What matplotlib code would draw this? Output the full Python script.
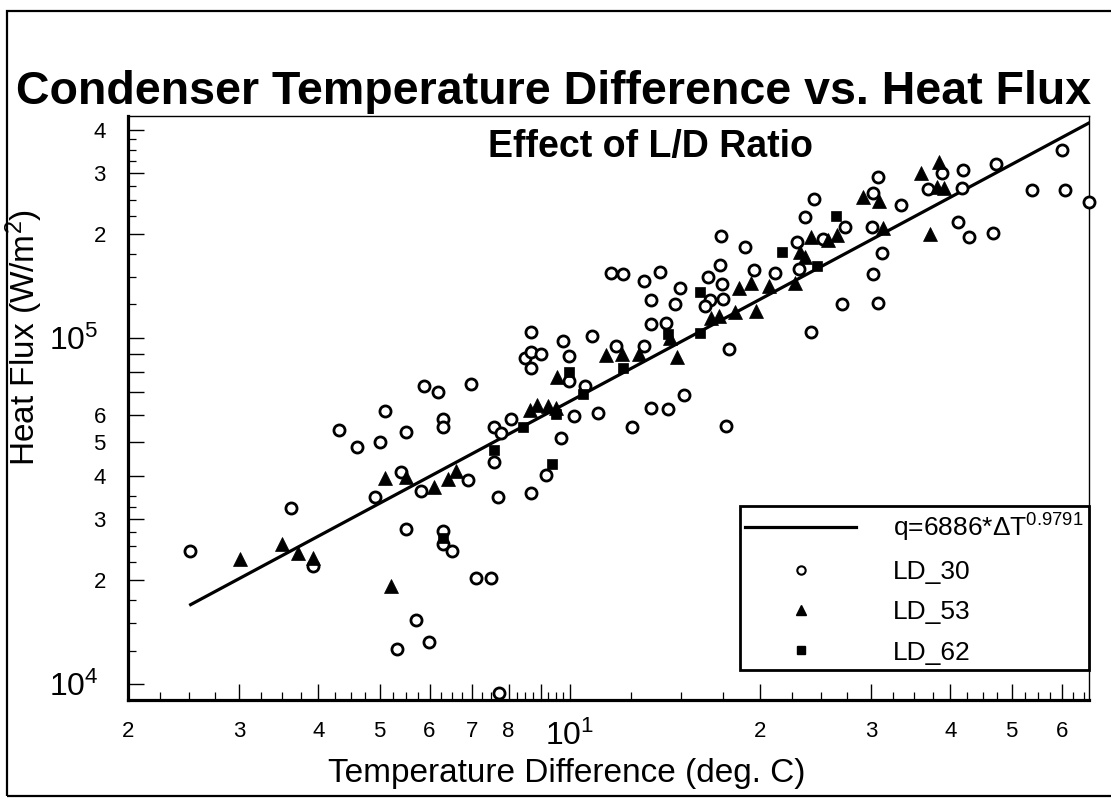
import matplotlib
matplotlib.use('Agg')
import numpy as np
import matplotlib.pyplot as plt
from matplotlib.lines import Line2D
from matplotlib.patches import Rectangle
from matplotlib.ticker import FixedLocator, FixedFormatter, NullFormatter
from matplotlib.transforms import ScaledTranslation

plt.rcParams['font.family'] = ['Liberation Sans', 'DejaVu Sans']
plt.rcParams['mathtext.fontset'] = 'custom'
plt.rcParams['mathtext.rm'] = 'Liberation Sans'
plt.rcParams['mathtext.it'] = 'Liberation Sans:italic'
plt.rcParams['mathtext.bf'] = 'Liberation Sans:bold'
plt.rcParams['mathtext.default'] = 'regular'

# ---------------- data ----------------
title = "Condenser Temperature Difference vs. Heat Flux"
subtitle = "Effect of L/D Ratio"
xlabel = "Temperature Difference (deg. C)"
ylabel = "Heat Flux (W/m$^2$)"

fit_coef = 6886.0
fit_exp = 0.9791
fit_range = [2.5, 70.0]
fit_label = "q=6886*ΔT$^{0.9791}$"

ld30_dt = [2.51, 3.62, 4.31, 4.60, 5.00, 5.11, 5.50, 5.41, 4.91, 5.81,
           5.50, 3.92, 5.71, 5.32, 5.99, 5.89, 6.19, 6.99, 6.29, 6.29,
           6.89, 7.58, 7.79, 8.06, 7.58, 7.70, 6.29, 6.29, 6.51, 7.10,
           7.50, 7.72, 8.67, 8.49, 8.68, 8.99, 8.68, 9.77, 9.97, 9.98,
           10.84, 11.82, 10.56, 10.16, 11.09, 9.67, 9.17, 8.68, 17.35, 18.92,
           11.61, 12.13, 13.12, 13.88, 14.96, 13.42, 14.69, 13.42, 14.20, 17.29,
           16.55, 17.43, 16.67, 17.45, 16.37, 19.58, 13.12, 12.53, 13.42, 14.29,
           15.18, 17.65, 17.86, 30.77, 24.35, 23.56, 30.15, 27.26, 33.40, 36.83,
           22.87, 25.20, 30.10, 31.17, 21.13, 23.08, 30.15, 26.94, 30.77, 24.06,
           60.00, 47.20, 41.85, 38.76, 41.70, 53.90, 60.75, 66.30, 41.20, 42.80,
           46.80]
ld30_q = [24300, 32200, 54100, 48400, 50000, 61600, 53400, 41000, 34700, 36200,
          28100, 22000, 15300, 12600, 13200, 72800, 69800, 73800, 58400, 55400,
          38800, 55300, 53000, 58400, 43700, 34700, 27700, 25400, 24300, 20200,
          20200, 9460, 104300, 87700, 90900, 89700, 81700, 98000, 88900, 75100,
          101300, 95000, 72800, 59500, 60700, 51400, 40100, 35700, 197500, 183600,
          153800, 153100, 146000, 154800, 139200, 128800, 125400, 109800, 110300, 162200,
          149800, 143200, 128800, 129900, 123900, 157300, 94900, 55300, 62800, 62400,
          68600, 55800, 93100, 291400, 251700, 223200, 263000, 209500, 242900, 268800,
          189500, 192700, 209500, 176500, 154200, 158300, 152800, 125700, 126500, 104000,
          350000, 317700, 305800, 300400, 270700, 267500, 267500, 247700, 216800, 196200,
          200800]

ld53_dt = [3.01, 3.51, 3.71, 3.92, 5.11, 5.50, 5.21, 6.10, 6.42, 6.60,
           8.65, 8.89, 9.25, 9.51, 9.55, 11.40, 12.11, 12.88, 14.77, 16.73,
           17.24, 18.26, 19.69, 18.55, 19.33, 35.95, 38.39, 29.07, 30.87, 24.09,
           25.59, 26.45, 23.14, 23.56, 31.34, 37.13, 22.72, 20.69, 38.07, 39.10,
           14.40]
ld53_q = [23000, 25400, 23900, 23200, 39400, 39600, 19200, 37200, 39100, 41400,
          61800, 64100, 63800, 62700, 77000, 89300, 89700, 89900, 88300, 114000,
          116000, 118600, 120000, 139200, 143900, 299000, 323200, 256000, 249000, 195400,
          192000, 198400, 176900, 171800, 207800, 199700, 143900, 141600, 273800, 270700,
          100000]

ld62_dt = [6.29, 7.58, 8.44, 9.51, 9.98, 10.51, 9.38, 12.13, 16.08, 16.08,
           14.30, 26.38, 21.69, 24.65]
ld62_q = [26400, 47500, 55400, 60200, 79900, 68900, 43300, 81700, 136000, 103200,
          102700, 225600, 176900, 161800]

series_labels = ["LD_30", "LD_53", "LD_62"]

x_major = [2, 3, 4, 5, 6, 7, 8, 9, 10, 20, 30, 40, 50, 60]
x_major_labels = ['2', '3', '4', '5', '6', '7', '8', '', '$10^1$', '2', '3', '4', '5', '6']
y_major = [1e4, 2e4, 3e4, 4e4, 5e4, 6e4, 7e4, 8e4, 9e4, 1e5, 2e5, 3e5, 4e5]
y_major_labels = ['$10^4$', '2', '3', '4', '5', '6', '', '', '', '$10^5$', '2', '3', '4']
x_limits = [2.0, 66.3]
y_limits = [9000, 4.38e5]

# ---------------- figure ----------------
W, H = 1111, 799
fig = plt.figure(figsize=(W / 100, H / 100), dpi=100)
fig.patch.set_facecolor('white')

# outer frame
fig.patches.append(Rectangle((7 / W, 3 / H), 1.2, (796 - 11) / H, transform=fig.transFigure,
                             fill=False, edgecolor='black', linewidth=1.6, zorder=0))

ax = fig.add_axes([128 / W, 99 / H, 961 / W, 584 / H])
ax.set_xscale('log')
ax.set_yscale('log')
ax.set_xlim(*x_limits)
ax.set_ylim(*y_limits)

dt_fit = np.geomspace(fit_range[0], fit_range[1], 300)
q_fit = fit_coef * dt_fit ** fit_exp
ax.plot(dt_fit, q_fit, color='black', lw=2.3, zorder=2, solid_capstyle='butt')

ax.plot(ld30_dt, ld30_q, linestyle='none', marker='o', ms=8.0, mfc='white', mec='black',
        mew=2.0, clip_on=False, zorder=3)
ax.plot(ld53_dt, ld53_q, linestyle='none', marker='^', ms=9.5, mfc='black', mec='black',
        mew=0.5, clip_on=False, zorder=4)
ax.plot(ld62_dt, ld62_q, linestyle='none', marker='s', ms=7.5, mfc='black', mec='black',
        mew=0.5, clip_on=False, zorder=5)

# spines
for side in ['left', 'bottom']:
    ax.spines[side].set_linewidth(2.3)
for side in ['top', 'right']:
    ax.spines[side].set_linewidth(1.0)

# ticks
ax.xaxis.set_major_locator(FixedLocator(x_major))
ax.xaxis.set_major_formatter(FixedFormatter(x_major_labels))
x_minor = [v for v in np.arange(2.25, 10, 0.25) if abs(v - round(v)) > 1e-6]
x_minor += [12.5, 15, 17.5]
x_minor += [v for v in np.arange(22.5, 66, 2.5) if abs(v / 10 - round(v / 10)) > 1e-6]
ax.xaxis.set_minor_locator(FixedLocator(x_minor))
ax.xaxis.set_minor_formatter(NullFormatter())

ax.yaxis.set_major_locator(FixedLocator(y_major))
ax.yaxis.set_major_formatter(FixedFormatter(y_major_labels))
y_minor = [m * 1e4 for m in [1.25, 1.5, 1.75, 2.25, 2.5, 2.75, 3.25, 3.5]]
y_minor += [m * 1e5 for m in [1.25, 1.5, 1.75, 2.25, 2.5, 2.75, 3.25, 3.5, 3.75]]
ax.yaxis.set_minor_locator(FixedLocator(y_minor))
ax.yaxis.set_minor_formatter(NullFormatter())

ax.tick_params(which='major', direction='in', length=11.5, width=1.0, labelsize=16,
               top=False, right=False)
ax.tick_params(which='minor', direction='in', length=5.5, width=0.9, top=False, right=False)
ax.tick_params(axis='x', which='major', pad=15)
ax.tick_params(axis='y', which='major', pad=16)

for tick, txt in zip(ax.xaxis.get_major_ticks(), x_major_labels):
    if txt.startswith('$10'):
        tick.label1.set_fontsize(23)
for tick, txt in zip(ax.yaxis.get_major_ticks(), y_major_labels):
    if txt.startswith('$10'):
        tick.label1.set_fontsize(23)
        tick.label1.set_transform(tick.label1.get_transform()
                                  + ScaledTranslation(-5 / 72, 0, fig.dpi_scale_trans))

ax.set_xlabel(xlabel, fontsize=24)
ax.xaxis.set_label_coords(0.457, -0.100)
ax.set_ylabel(ylabel, fontsize=24)
ax.yaxis.set_label_coords(-0.086, 0.62)

fig.text(554 / W, 1 - 104 / H, title, ha='center', va='baseline', fontsize=33.5,
         fontweight='bold')
fig.text(651 / W, 1 - 157 / H, subtitle, ha='center', va='baseline', fontsize=27,
         fontweight='bold')

handles = [Line2D([], [], color='black', lw=2.3),
           Line2D([], [], linestyle='none', marker='o', ms=6, mfc='white', mec='black', mew=1.5),
           Line2D([], [], linestyle='none', marker='^', ms=7, mfc='black', mec='black'),
           Line2D([], [], linestyle='none', marker='s', ms=6, mfc='black', mec='black')]
labels = [fit_label] + series_labels
leg = ax.legend(handles, labels, loc='lower right', bbox_to_anchor=(1.0, 30 / 584),
                borderaxespad=0, fontsize=19, handlelength=4.2, handletextpad=1.4,
                labelspacing=0.62, borderpad=0.2, fancybox=False, framealpha=1,
                edgecolor='black')
leg.get_frame().set_linewidth(2.0)

fig.savefig('out.png', dpi=100, facecolor='white')
